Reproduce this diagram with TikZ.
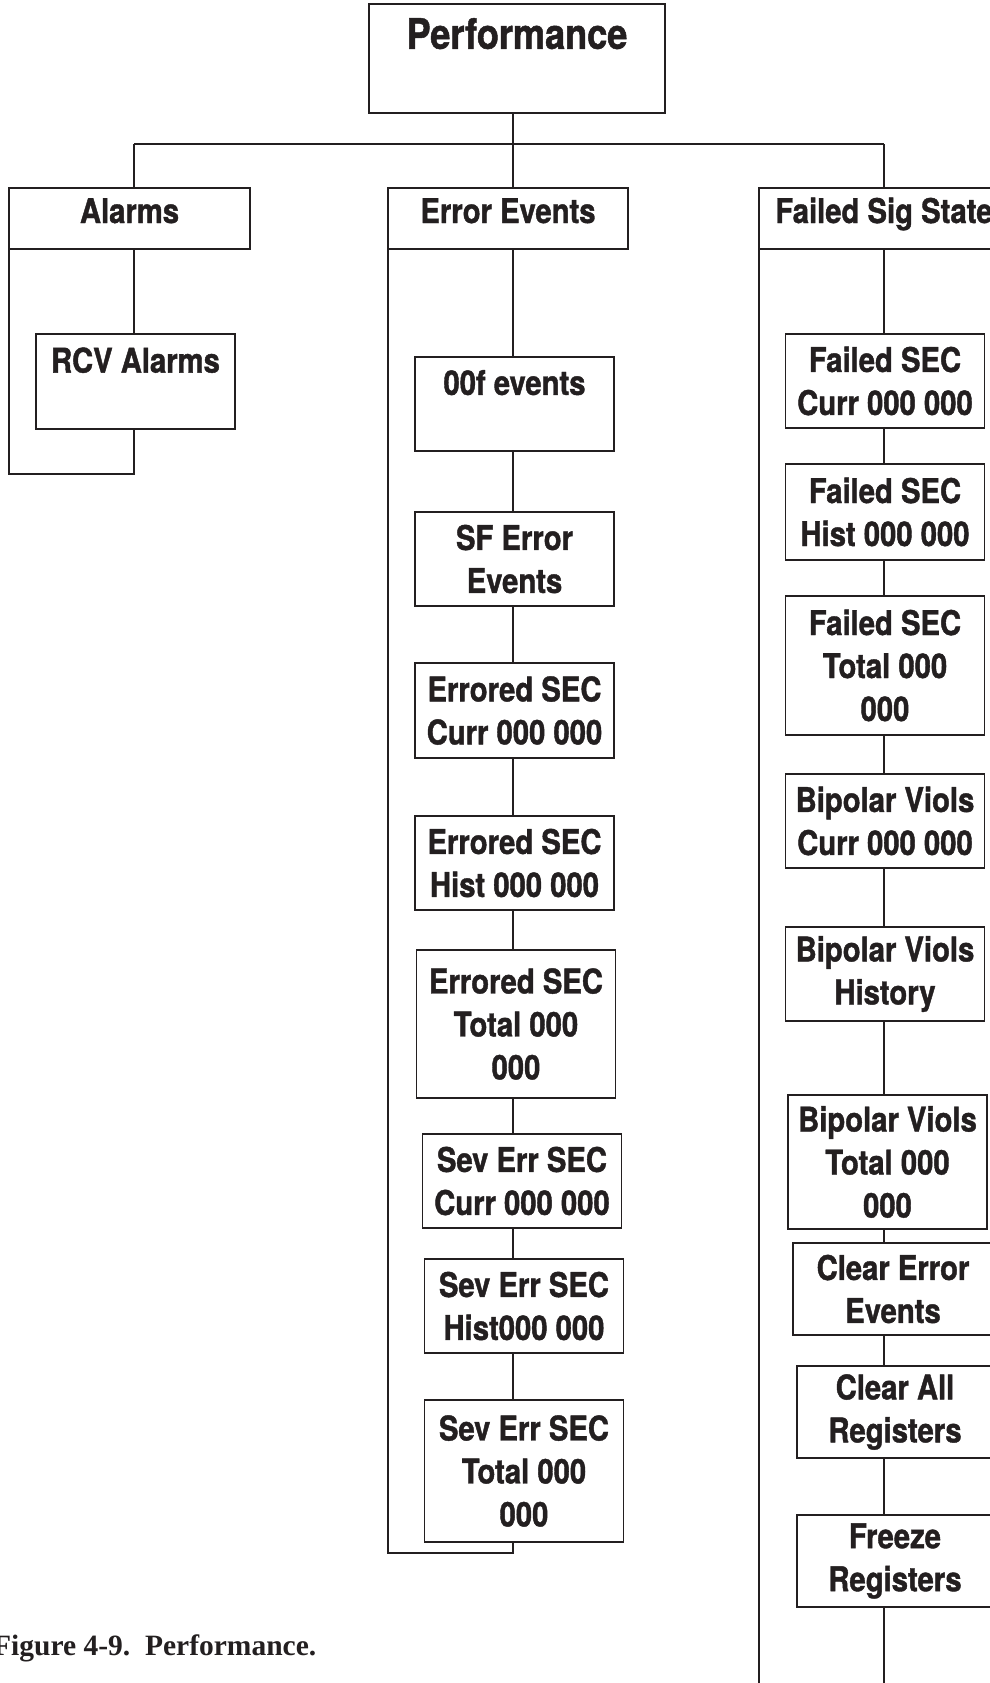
\documentclass[tikz,border=0pt]{standalone}
\usepackage{fontspec}
\usepackage{tikz}
\usetikzlibrary{positioning}
\usepackage{xcolor}
\newfontfamily\boxfam{TeX Gyre Heros}[FakeStretch=0.86,BoldFeatures={FakeBold=1.2}]
\newfontfamily\capfam{Liberation Serif}
\definecolor{inkblack}{RGB}{35,31,32}

\begin{document}
\begin{tikzpicture}[x=1pt,y=-1pt,
  box/.style={rectangle,draw=inkblack,line width=1.4pt,inner sep=0pt,outer sep=0pt,
    minimum width=199pt,minimum height=94pt,align=center,text=inkblack,
    font={\boxfam\bfseries\fontsize{34}{43}\selectfont}},
  head/.style={box,minimum width=241pt,minimum height=61pt,
    text height=25pt,text depth=16pt},
  lnk/.style={draw=inkblack,line width=1.4pt}
]
  \useasboundingbox (0,0) rectangle (990,1683);

  \node[box,minimum width=296pt,minimum height=109pt,
    font={\boxfam\bfseries\fontsize{42}{50}\selectfont}] (perf) at (517,58.5)
    {Performance\\\mbox{}};
  \node[head] (alarms) at (129.5,218.5) {Alarms};
  \node[head,minimum width=240pt] (ee) at (508,218.5) {Error Events};
  \node[head,minimum width=250pt] (fs) at (884,218.5) {Failed Sig State};

  \node[box,minimum height=95pt,below=85pt of alarms,xshift=6pt] (rcv)
    {RCV Alarms\\\mbox{}};

  \node[box,below=108pt of ee,xshift=6.5pt] (oof) {00f events\\\mbox{}};
  \node[box,below=61pt of oof] (sf) {SF Error\\Events};
  \node[box,minimum height=95pt,below=57pt of sf] (es1) {Errored SEC\\Curr 000 000};
  \node[box,below=58pt of es1] (es2) {Errored SEC\\Hist 000 000};
  \node[box,minimum height=148pt,below=40pt of es2,xshift=1.5pt] (es3)
    {Errored SEC\\Total 000\\000};
  \node[box,below=36pt of es3,xshift=6pt] (sv1) {Sev Err SEC\\Curr 000 000};
  \node[box,below=31pt of sv1,xshift=2pt] (sv2) {Sev Err SEC\\Hist000 000};
  \node[box,minimum height=142pt,below=47pt of sv2] (sv3)
    {Sev Err SEC\\Total 000\\000};

  \node[box,below=85pt of fs,xshift=1pt] (fc1) {Failed SEC\\Curr 000 000};
  \node[box,minimum height=96pt,below=36pt of fc1] (fc2) {Failed SEC\\Hist 000 000};
  \node[box,minimum height=139pt,below=36pt of fc2] (fc3)
    {Failed SEC\\Total 000\\000};
  \node[box,below=39pt of fc3] (bv1) {Bipolar Viols\\Curr 000 000};
  \node[box,below=59pt of bv1] (bv2) {Bipolar Viols\\History};
  \node[box,minimum height=134pt,below=74pt of bv2,xshift=2.5pt] (bv3)
    {Bipolar Viols\\Total 000\\000};
  \node[box,minimum width=200pt,minimum height=92pt,below=14pt of bv3,xshift=5.5pt] (ce)
    {Clear Error\\Events};
  \node[box,minimum width=196pt,minimum height=92pt,below=31pt of ce,xshift=2pt] (ca)
    {Clear All\\Registers};
  \node[box,minimum width=196pt,minimum height=92pt,below=57pt of ca] (fr)
    {Freeze\\Registers};

  \node[anchor=base west,inner sep=0pt,text=inkblack,
    font={\capfam\bfseries\fontsize{29.5}{35}\selectfont}] (cap) at (-7,1655)
    {Figure 4-9.\ \ Performance.};

  \coordinate (colA) at (134,0);
  \coordinate (colE) at (513,0);
  \coordinate (colF) at (884,0);
  \coordinate (barL) at (134,144);
  \coordinate (barR) at (884,144);
  \coordinate (loopA) at (9,474);
  \coordinate (loopE) at (388,1553);
  \coordinate (loopF) at (759,1683);

  \draw[lnk] (perf.south -| colE) -- (colE |- barL);
  \draw[lnk] (barL) -- (barR);
  \draw[lnk] (barL) -- (alarms.north -| colA);
  \draw[lnk] (colE |- barL) -- (ee.north -| colE);
  \draw[lnk] (barR) -- (fs.north -| colF);

  \draw[lnk] (alarms.south -| colA) -- (rcv.north -| colA);
  \draw[lnk] (rcv.south -| colA) -- (colA |- loopA) -- (loopA) -- (loopA |- alarms.south);

  \draw[lnk] (ee.south -| colE) -- (oof.north -| colE);
  \draw[lnk] (oof.south -| colE) -- (sf.north -| colE);
  \draw[lnk] (sf.south -| colE) -- (es1.north -| colE);
  \draw[lnk] (es1.south -| colE) -- (es2.north -| colE);
  \draw[lnk] (es2.south -| colE) -- (es3.north -| colE);
  \draw[lnk] (es3.south -| colE) -- (sv1.north -| colE);
  \draw[lnk] (sv1.south -| colE) -- (sv2.north -| colE);
  \draw[lnk] (sv2.south -| colE) -- (sv3.north -| colE);
  \draw[lnk] (sv3.south -| colE) -- (colE |- loopE) -- (loopE) -- (loopE |- ee.south);

  \draw[lnk] (fs.south -| colF) -- (fc1.north -| colF);
  \draw[lnk] (fc1.south -| colF) -- (fc2.north -| colF);
  \draw[lnk] (fc2.south -| colF) -- (fc3.north -| colF);
  \draw[lnk] (fc3.south -| colF) -- (bv1.north -| colF);
  \draw[lnk] (bv1.south -| colF) -- (bv2.north -| colF);
  \draw[lnk] (bv2.south -| colF) -- (bv3.north -| colF);
  \draw[lnk] (bv3.south -| colF) -- (ce.north -| colF);
  \draw[lnk] (ce.south -| colF) -- (ca.north -| colF);
  \draw[lnk] (ca.south -| colF) -- (fr.north -| colF);
  \draw[lnk] (fr.south -| colF) -- (colF |- loopF);
  \draw[lnk] (loopF |- fs.south) -- (loopF);
\end{tikzpicture}
\end{document}
